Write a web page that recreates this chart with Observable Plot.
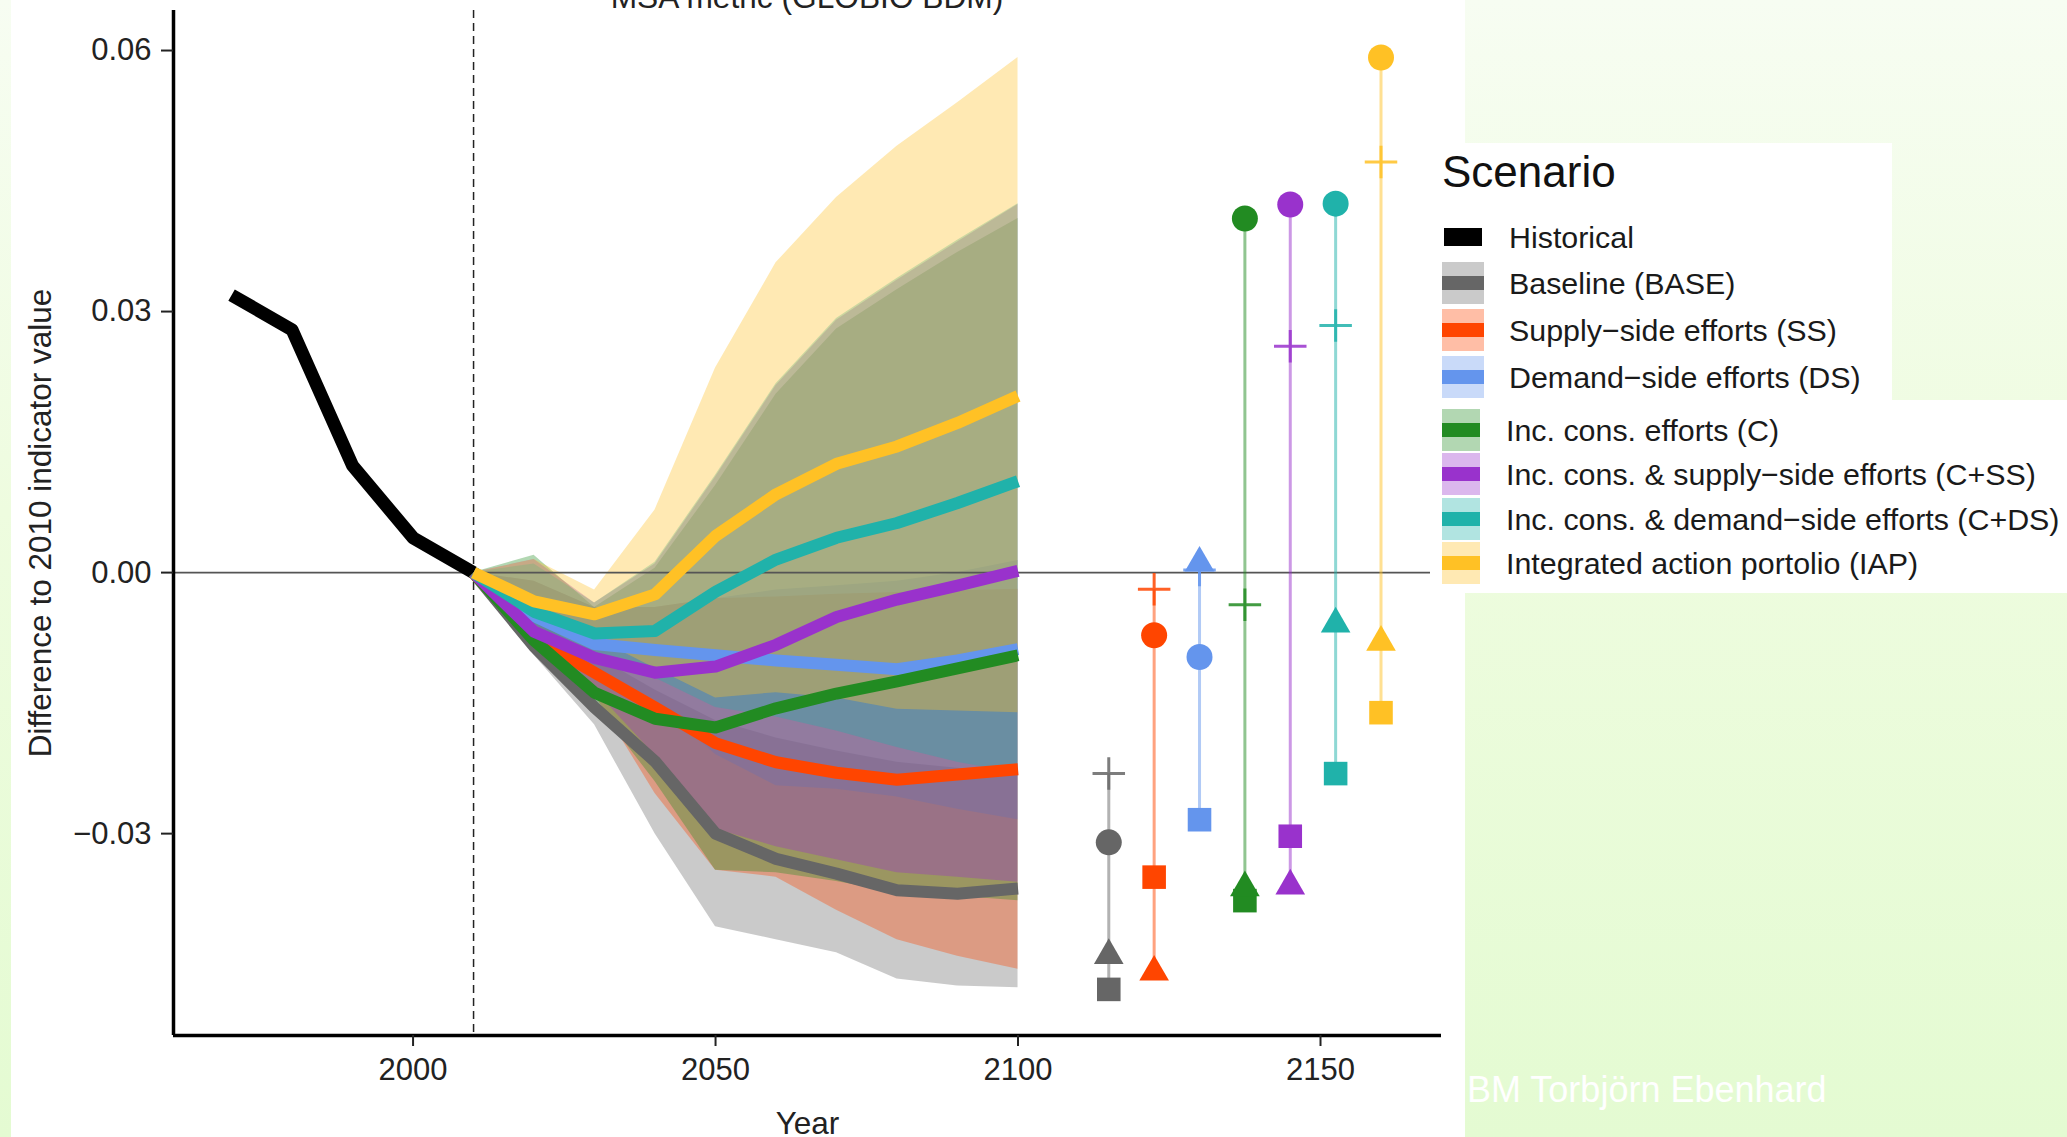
<!DOCTYPE html>
<html>
<head>
<meta charset="utf-8">
<script src="https://cdn.jsdelivr.net/npm/d3@7"></script>
<script src="https://cdn.jsdelivr.net/npm/@observablehq/plot@0.6"></script>
<style>
  html, body { margin: 0; padding: 0; }
  body {
    width: 2067px; height: 1137px; position: relative; overflow: hidden;
    background: linear-gradient(to bottom, #f7fdf2 0%, #eefcdf 45%, #e4fbd2 100%);
    font-family: "Liberation Sans", Arial, sans-serif;
  }
  #panel { position: absolute; left: 11px; top: 0; width: 1454px; height: 1137px; background: #fff; }
  #chart { position: absolute; left: 0; top: 0; }
  #title { position: absolute; left: 307px; width: 1000px; top: -19px; text-align: center;
           font-size: 31.7px; line-height: 32px; color: #222; white-space: nowrap; }
  .box { position: absolute; background: #fff; }
  #legtitle { position: absolute; left: 1442px; top: 150px; font-size: 44px; line-height: 44px; color: #111; }
  .row { position: absolute; height: 44px; display: flex; align-items: center; }
  .sw { position: relative; height: 42px; }
  .bar { position: absolute; left: 0; right: 0; top: 14px; height: 14px; }
  .lab { position: absolute; font-size: 30.4px; line-height: 44px; color: #1a1a1a; white-space: nowrap; }
  #credit { position: absolute; left: 1467px; top: 1072px; font-size: 36px; line-height: 36px; color: #fff; white-space: nowrap; }
</style>
</head>
<body>
<div id="panel"></div>
<div id="chart"></div>
<div id="title">MSA metric (GLOBIO BDM)</div>
<div class="box" style="left:1430px;top:143px;width:462px;height:257px;"></div>
<div class="box" style="left:1430px;top:400px;width:637px;height:193px;"></div>
<div id="legtitle">Scenario</div>
<div id="legend"></div>
<div id="credit">BM Torbjörn Ebenhard</div>
<script>
// ---------------- data ----------------
const histYears  = [1970, 1980, 1990, 2000, 2010];
const histValues = [0.0319, 0.0279, 0.0123, 0.0040, 0];

const years = [2010, 2020, 2030, 2040, 2050, 2060, 2070, 2080, 2090, 2100];

const codes = ["BASE", "SS", "DS", "C", "C+SS", "C+DS", "IAP"];
const labels = [
  "Baseline (BASE)",
  "Supply\u2212side efforts (SS)",
  "Demand\u2212side efforts (DS)",
  "Inc. cons. efforts (C)",
  "Inc. cons. & supply\u2212side efforts (C+SS)",
  "Inc. cons. & demand\u2212side efforts (C+DS)",
  "Integrated action portolio (IAP)"
];
const colors = ["#666666", "#ff4500", "#6495ed", "#228b22", "#9932cc", "#20b2aa", "#ffc125"];

// central lines
const lineBASE = [0, -0.0085, -0.0155, -0.0217, -0.0300, -0.0329, -0.0346, -0.0365, -0.0369, -0.0363];
const lineSS   = [0, -0.0075, -0.0115, -0.0155, -0.0196, -0.0218, -0.0230, -0.0238, -0.0232, -0.0226];
const lineDS   = [0, -0.0050, -0.0082, -0.0089, -0.0095, -0.0101, -0.0106, -0.0111, -0.0101, -0.0088];
const lineC    = [0, -0.0078, -0.0138, -0.0168, -0.0178, -0.0156, -0.0139, -0.0125, -0.0110, -0.0095];
const lineCSS  = [0, -0.0068, -0.0098, -0.0115, -0.0108, -0.0083, -0.0051, -0.0031, -0.0015, 0.0002];
const lineCDS  = [0, -0.0045, -0.0070, -0.0067, -0.0022, 0.0015, 0.0040, 0.0057, 0.0080, 0.0105];
const lineIAP  = [0, -0.0033, -0.0048, -0.0025, 0.0042, 0.0090, 0.0125, 0.0145, 0.0172, 0.0203];

// ranges (lower / upper)
const loBASE = [0, -0.0095, -0.0175, -0.0300, -0.0407, -0.0422, -0.0437, -0.0467, -0.0475, -0.0477];
const hiBASE = [0, -0.0055, -0.0095, -0.0135, -0.0170, -0.0190, -0.0205, -0.0218, -0.0225, -0.0231];
const loSS   = [0, -0.0082, -0.0140, -0.0254, -0.0342, -0.0350, -0.0388, -0.0422, -0.0441, -0.0456];
const hiSS   = [0, -0.0010, -0.0040, -0.0040, -0.0030, -0.0028, -0.0025, -0.0023, -0.0021, -0.0019];
const loDS   = [0, -0.0065, -0.0110, -0.0147, -0.0209, -0.0245, -0.0249, -0.0258, -0.0272, -0.0284];
const hiDS   = [0, -0.0010, -0.0040, -0.0040, -0.0030, -0.0020, -0.0015, -0.0010, 0.0000, 0.0014];
const loC    = [0, -0.0085, -0.0150, -0.0240, -0.0342, -0.0345, -0.0355, -0.0368, -0.0372, -0.0377];
const hiC    = [0, 0.0020, -0.0040, 0.0005, 0.0100, 0.0205, 0.0280, 0.0325, 0.0368, 0.0407];
const loCSS  = [0, -0.0080, -0.0135, -0.0210, -0.0295, -0.0315, -0.0330, -0.0345, -0.0350, -0.0356];
const hiCSS  = [0, 0.0015, -0.0035, 0.0010, 0.0110, 0.0215, 0.0290, 0.0336, 0.0380, 0.0423];
const loCDS  = [0, -0.0060, -0.0095, -0.0121, -0.0155, -0.0166, -0.0182, -0.0201, -0.0218, -0.0231];
const hiCDS  = [0, 0.0010, -0.0035, 0.0012, 0.0112, 0.0217, 0.0292, 0.0338, 0.0382, 0.0424];
const loIAP  = [0, -0.0045, -0.0075, -0.0110, -0.0144, -0.0138, -0.0144, -0.0157, -0.0159, -0.0161];
const hiIAP  = [0, 0.0015, -0.0020, 0.0072, 0.0235, 0.0356, 0.0431, 0.0490, 0.0540, 0.0592];

// 2100 end-point markers, one per scenario
const markerX      = [2115, 2122.5, 2130, 2137.5, 2145, 2152.5, 2160];
const circleVals   = [-0.0310, -0.0072, -0.0097, 0.0407, 0.0423, 0.0424, 0.0592];
const plusVals     = [-0.0231, -0.0019, 0.0003, -0.0037, 0.0260, 0.0284, 0.0472];
const triangleVals = [-0.0440, -0.0459, 0.0011, -0.0362, -0.0360, -0.0059, -0.0080];
const squareVals   = [-0.0479, -0.0350, -0.0284, -0.0377, -0.0303, -0.0231, -0.0161];

// axes
const xDomain = [1960.4, 2170];
const yDomain = [-0.0532, 0.0646];
const xTicks = [2000, 2050, 2100, 2150];
const yTicks = [-0.03, 0, 0.03, 0.06];

// ---------------- build tables ----------------
const lines = [lineBASE, lineSS, lineDS, lineC, lineCSS, lineCDS, lineIAP];
const los = [loBASE, loSS, loDS, loC, loCSS, loCDS, loIAP];
const his = [hiBASE, hiSS, hiDS, hiC, hiCSS, hiCDS, hiIAP];

const series = codes.map((code, i) => ({
  code, color: colors[i],
  rows: years.map((yr, j) => ({year: yr, value: lines[i][j], lo: los[i][j], hi: his[i][j]}))
}));
const hist = histYears.map((yr, j) => ({year: yr, value: histValues[j]}));
const markers = codes.map((code, i) => {
  const vals = [circleVals[i], plusVals[i], triangleVals[i], squareVals[i]];
  return {code, color: colors[i], x: markerX[i], circle: circleVals[i], plus: plusVals[i],
          triangle: triangleVals[i], square: squareVals[i], min: d3.min(vals), max: d3.max(vals)};
});

// ---------------- plot ----------------
const marks = [];
series.forEach(s => marks.push(Plot.areaY(s.rows, {x: "year", y1: "lo", y2: "hi", fill: s.color, fillOpacity: 0.35})));
marks.push(Plot.ruleY([0], {stroke: "#555", strokeWidth: 1.6}));
marks.push(Plot.ruleX([2010], {stroke: "#222", strokeWidth: 1.5, strokeDasharray: "8,5"}));
marks.push(Plot.line(hist, {x: "year", y: "value", stroke: "#000", strokeWidth: 13, strokeLinejoin: "round", strokeLinecap: "butt"}));
series.forEach(s => marks.push(Plot.line(s.rows, {x: "year", y: "value", stroke: s.color, strokeWidth: 12, strokeLinejoin: "round", strokeLinecap: "butt"})));
marks.push(Plot.ruleX(markers, {x: "x", y1: "min", y2: "max", stroke: "color", strokeOpacity: 0.5, strokeWidth: 3}));
marks.push(Plot.dot(markers, {x: "x", y: "plus", symbol: "plus", r: 10.5, stroke: "color", strokeWidth: 3, strokeOpacity: 0.85, fill: "none"}));
marks.push(Plot.dot(markers, {x: "x", y: "circle", symbol: "circle", r: 13, fill: "color", stroke: "none"}));
marks.push(Plot.dot(markers, {x: "x", y: "square", symbol: "square", r: 13.3, fill: "color", stroke: "none"}));
marks.push(Plot.dot(markers, {x: "x", y: "triangle", symbol: "triangle", r: 11, fill: "color", stroke: "none"}));
// axis lines
marks.push(Plot.ruleX([xDomain[0]], {stroke: "#000", strokeWidth: 3.5}));
marks.push(Plot.ruleY([yDomain[0]], {stroke: "#000", strokeWidth: 3.5}));
marks.push(Plot.axisY({ticks: yTicks, tickFormat: d3.format(".2f"), tickSize: 12, tickPadding: 10, label: null, stroke: "#222", strokeWidth: 2, fill: "#222"}));
marks.push(Plot.axisX({ticks: xTicks, tickFormat: d => String(d), tickSize: 11, tickPadding: 11, label: null, stroke: "#222", strokeWidth: 2, fill: "#222"}));
marks.push(Plot.text(["Year"], {text: d => d, frameAnchor: "bottom", dy: 98, lineAnchor: "bottom", textAnchor: "middle", fontSize: 31.5, fill: "#222"}));
marks.push(Plot.text(["Difference to 2010 indicator value"], {text: d => d, frameAnchor: "left", dx: -123, rotate: -90, lineAnchor: "bottom", textAnchor: "middle", fontSize: 31.5, fill: "#222"}));

const chart = Plot.plot({
  width: 2067, height: 1137,
  marginLeft: 173, marginRight: 626, marginTop: 10, marginBottom: 102,
  x: {domain: xDomain},
  y: {domain: yDomain},
  color: {type: "identity"},
  style: {background: "transparent", fontFamily: "Liberation Sans, Arial, sans-serif", fontSize: "31px", color: "#222", overflow: "visible"},
  marks
});
document.getElementById("chart").appendChild(chart);

// ---------------- legend ----------------
const legend = document.getElementById("legend");
function addRow(cy, swLeft, swWidth, textLeft, fillColor, barColor, barH, label) {
  const row = document.createElement("div");
  row.className = "row";
  row.style.left = swLeft + "px";
  row.style.top = (cy - 22) + "px";
  const sw = document.createElement("div");
  sw.className = "sw";
  sw.style.width = swWidth + "px";
  sw.style.background = fillColor;
  const bar = document.createElement("div");
  bar.className = "bar";
  bar.style.background = barColor;
  bar.style.height = barH + "px";
  bar.style.top = (21 - barH / 2) + "px";
  if (fillColor === "transparent") { bar.style.left = "2px"; bar.style.right = "2px"; }
  sw.appendChild(bar);
  row.appendChild(sw);
  legend.appendChild(row);
  const lab = document.createElement("div");
  lab.className = "lab";
  lab.style.left = textLeft + "px";
  lab.style.top = (cy - 22) + "px";
  lab.textContent = label;
  legend.appendChild(lab);
}
addRow(237, 1442, 42, 1509, "transparent", "#000", 18, "Historical");
for (let i = 0; i < 3; i++) {
  const c = d3.color(colors[i]).copy({opacity: 0.35}).toString();
  addRow(283 + i * 46.8, 1442, 42, 1509, c, colors[i], 14, labels[i]);
}
for (let i = 3; i < 7; i++) {
  const c = d3.color(colors[i]).copy({opacity: 0.35}).toString();
  addRow(430 + (i - 3) * 44.3, 1442, 38, 1506, c, colors[i], 14, labels[i]);
}
</script>
</body>
</html>
